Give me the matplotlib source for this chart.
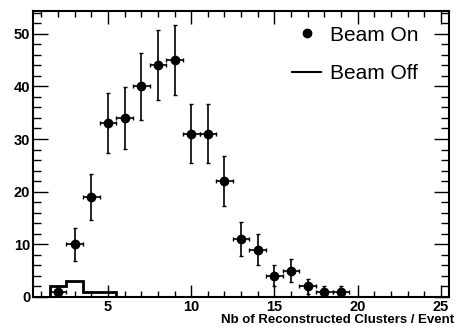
import numpy as np
import matplotlib.pyplot as plt
from matplotlib.lines import Line2D
from matplotlib.ticker import MultipleLocator

plt.rcParams['font.family'] = ['Liberation Sans', 'DejaVu Sans']

# Beam On: число кластеров и число событий
n_clusters = np.array([2, 3, 4, 5, 6, 7, 8, 9, 10, 11, 12, 13, 14, 15, 16, 17, 18, 19])
beam_on = np.array([1, 10, 19, 33, 34, 40, 44, 45, 31, 31, 22, 11, 9, 4, 5, 2, 1, 1])

# Beam Off: гистограмма
off_edges = np.array([1.5, 2.5, 3.5, 4.5, 5.5])
beam_off = np.array([2, 3, 1, 1])

fig = plt.figure(figsize=(4.55, 3.27), dpi=100)
ax = fig.add_axes([0.0725, 0.092, 0.915, 0.874])

ax.stairs(beam_off, off_edges, color='black', linewidth=2.0, baseline=0)
ax.errorbar(n_clusters, beam_on, yerr=np.sqrt(beam_on), xerr=0.5,
            fmt='o', color='black', markersize=6, elinewidth=1.2, capsize=1.5)

ax.set_xlim(0.5, 25.5)
ax.set_ylim(0, 54.3)
ax.xaxis.set_major_locator(MultipleLocator(5))
ax.xaxis.set_minor_locator(MultipleLocator(1))
ax.yaxis.set_major_locator(MultipleLocator(10))
ax.yaxis.set_minor_locator(MultipleLocator(2))
ax.tick_params(which='both', direction='in', top=True, right=True, width=1)
ax.tick_params(axis='x', which='major', length=9, labelsize=10.5, pad=2.5)
ax.tick_params(axis='x', which='minor', length=4.5)
ax.tick_params(axis='y', which='major', length=11, labelsize=10.5, pad=2)
ax.tick_params(axis='y', which='minor', length=5.5)
for lab in ax.get_xticklabels() + ax.get_yticklabels():
    lab.set_fontweight('bold')
for sp in ax.spines.values():
    sp.set_linewidth(1.5)

fig.text(0.998, 0.012, 'Nb of Reconstructed Clusters / Event', fontsize=9.5,
         fontweight='bold', ha='right', va='baseline')

handles = [Line2D([], [], marker='o', color='black', linestyle='none', markersize=6),
           Line2D([], [], color='black', linewidth=1.5)]
ax.legend(handles, ['Beam On', 'Beam Off'], loc='upper right', frameon=False,
          fontsize=15, handlelength=1.4, labelspacing=0.95, borderaxespad=0.3,
          handletextpad=0.4, bbox_to_anchor=(0.96, 1.0))

plt.savefig('out.png', dpi=100)
